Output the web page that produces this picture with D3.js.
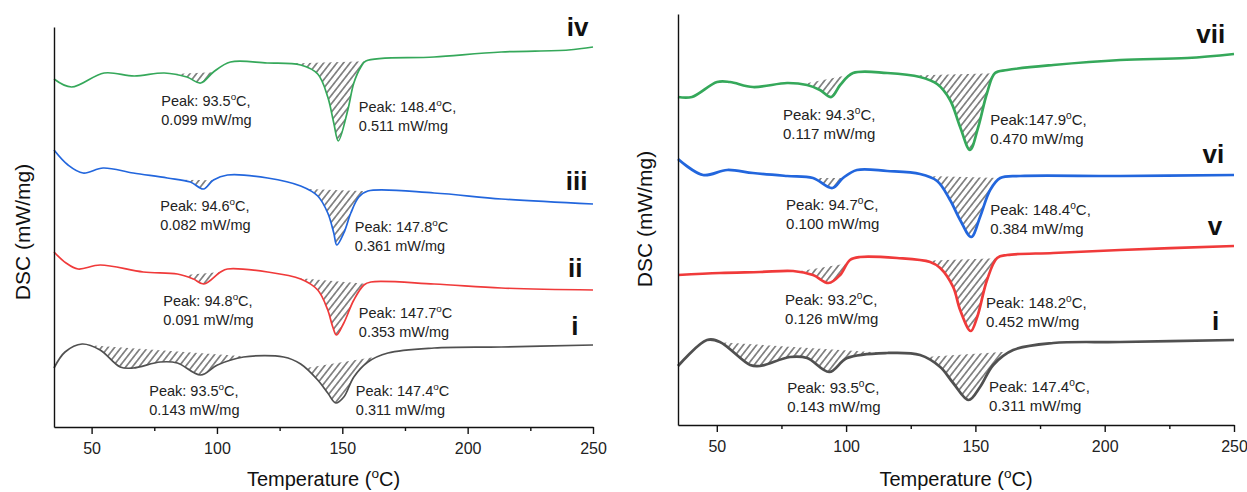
<!DOCTYPE html>
<html>
<head>
<meta charset="utf-8">
<script src="https://cdn.jsdelivr.net/npm/d3@7"></script>
<style>
  body { margin: 0; background: #fff; }
  svg { display: block; }
</style>
</head>
<body>
<script>
// ---- left panel (i - iv), DSC values are stacked offsets (mW/mg)
const lTempIV = [35, 42, 55, 67, 79, 88, 93.5, 98.6, 105.4, 120, 133.4, 140.2, 144.2, 146.6, 148.4, 152.2, 154.6, 157.4, 159.4, 186.6, 213.4, 240.2, 250];
const lDscIV  = [3.48, 3.40, 3.54, 3.51, 3.54, 3.50, 3.44, 3.55, 3.65, 3.64, 3.62, 3.53, 3.30, 3.04, 2.86, 3.17, 3.44, 3.60, 3.66, 3.70, 3.75, 3.77, 3.80];

const lTempIII = [35, 40.6, 46.6, 54.6, 66.6, 80.2, 89.4, 94.6, 98.6, 104.2, 120.2, 133.4, 140.2, 144.2, 146.6, 147.8, 150.6, 153.4, 156.6, 160.2, 186.6, 213.4, 250];
const lDscIII  = [2.77, 2.62, 2.54, 2.59, 2.54, 2.49, 2.45, 2.38, 2.47, 2.52, 2.49, 2.41, 2.31, 2.14, 1.94, 1.82, 1.94, 2.14, 2.30, 2.36, 2.34, 2.28, 2.23];

const lTempII = [35, 39.8, 44.6, 53.4, 70.6, 84.2, 90.6, 94.8, 101.4, 104.2, 120.2, 133.4, 140.2, 144.2, 146.2, 147.7, 150.6, 154.6, 158.6, 161.4, 186.6, 213.4, 250];
const lDscII  = [1.75, 1.64, 1.58, 1.62, 1.55, 1.53, 1.48, 1.43, 1.55, 1.58, 1.55, 1.48, 1.37, 1.17, 1.00, 0.92, 1.04, 1.27, 1.42, 1.45, 1.43, 1.39, 1.37];

const lTempI = [35, 39.4, 46.2, 53.4, 61.4, 66.6, 77.4, 84.2, 93.5, 100.2, 110.6, 126.6, 133.4, 140.2, 144.2, 147.4, 150.6, 154.6, 160.2, 168.2, 186.6, 213.4, 250];
const lDscI  = [0.59, 0.75, 0.83, 0.77, 0.60, 0.59, 0.65, 0.64, 0.52, 0.62, 0.70, 0.70, 0.63, 0.47, 0.34, 0.24, 0.30, 0.50, 0.65, 0.74, 0.79, 0.80, 0.82];

// ---- right panel (i, v - vii)
const rTempVII = [35, 40.4, 50.1, 55.1, 64, 77.2, 84.9, 89.9, 94.3, 97.7, 102.7, 115.9, 128.6, 135.2, 140.2, 144.1, 147.9, 151.1, 154.5, 157.6, 162.3, 180.1, 206, 231.9, 250];
const rDscVII  = [3.28, 3.28, 3.43, 3.43, 3.38, 3.42, 3.40, 3.35, 3.28, 3.40, 3.52, 3.52, 3.48, 3.41, 3.25, 2.98, 2.75, 2.98, 3.32, 3.52, 3.55, 3.60, 3.65, 3.67, 3.71];

const rTempVI = [35, 44.7, 54, 64, 77.2, 87.2, 94.7, 98.8, 104.2, 115.9, 128.6, 135.2, 140.2, 144.1, 148.4, 151.8, 155.7, 159.6, 167.3, 206, 250];
const rDscVI  = [2.66, 2.50, 2.55, 2.52, 2.49, 2.47, 2.37, 2.47, 2.55, 2.54, 2.51, 2.44, 2.25, 2.05, 1.88, 2.08, 2.35, 2.47, 2.49, 2.49, 2.50];

const rTempV = [35, 51.2, 66.7, 79.5, 87.2, 93.2, 97.7, 101.5, 105.4, 119.7, 132.5, 136.4, 141.4, 144.1, 148.2, 150.7, 154.5, 158.4, 162.3, 180.1, 206, 250];
const rDscV  = [1.50, 1.52, 1.53, 1.54, 1.50, 1.42, 1.50, 1.65, 1.68, 1.67, 1.63, 1.57, 1.38, 1.15, 0.94, 1.08, 1.45, 1.67, 1.70, 1.72, 1.75, 1.79];

const rTempI = [35, 46.2, 51.2, 62.9, 66.7, 78.3, 84.9, 93.5, 100.4, 115.9, 128.6, 136.4, 141.4, 147.4, 151.8, 156.9, 164.6, 180.1, 206, 250];
const rDscI  = [0.59, 0.85, 0.83, 0.60, 0.59, 0.68, 0.67, 0.53, 0.67, 0.72, 0.70, 0.58, 0.42, 0.25, 0.38, 0.60, 0.75, 0.82, 0.83, 0.85];

// hatched integration ranges (°C)
const lHatchIV  = [[82.6, 98.6], [129.4, 159.4]];
const lHatchIII = [[85.4, 98.6], [136.2, 160.2]];
const lHatchII  = [[86.2, 101.4], [132.2, 159.4]];
const lHatchI   = [[49.4, 112.2], [135.4, 164.2]];
const rHatchVII = [[83, 101.5], [125.9, 157.6]];
const rHatchVI  = [[87.2, 98.8], [131.3, 159.6]];
const rHatchV   = [[81, 100.4], [130.5, 158.4]];
const rHatchI   = [[51.2, 115.9], [130.5, 163.4]];

// peak annotations: [temperature, dsc] of first line + two lines of text
const lPeaksIV  = [[77.8, 3.21, "Peak: 93.5°C,", "0.099 mW/mg"], [156.6, 3.15, "Peak: 148.4°C,", "0.511 mW/mg"]];
const lPeaksIII = [[77.4, 2.16, "Peak: 94.6°C,", "0.082 mW/mg"], [155, 1.95, "Peak: 147.8°C", "0.361 mW/mg"]];
const lPeaksII  = [[78.6, 1.21, "Peak: 94.8°C,", "0.091 mW/mg"], [156.6, 1.09, "Peak: 147.7°C", "0.353 mW/mg"]];
const lPeaksI   = [[73, 0.31, "Peak: 93.5°C,", "0.143 mW/mg"], [155.4, 0.31, "Peak: 147.4°C", "0.311 mW/mg"]];
const rPeaksVII = [[75.6, 3.05, "Peak: 94.3°C,", "0.117 mW/mg"], [155.7, 3.00, "Peak:147.9°C,", "0.470 mW/mg"]];
const rPeaksVI  = [[76.8, 2.15, "Peak: 94.7°C,", "0.100 mW/mg"], [155.7, 2.10, "Peak: 148.4°C,", "0.384 mW/mg"]];
const rPeaksV   = [[76.4, 1.20, "Peak: 93.2°C,", "0.126 mW/mg"], [154.1, 1.17, "Peak: 148.2°C,", "0.452 mW/mg"]];
const rPeaksI   = [[77.2, 0.32, "Peak: 93.5°C,", "0.143 mW/mg"], [155.3, 0.33, "Peak: 147.4°C,", "0.311 mW/mg"]];

// curve tags: [name, temperature of right edge, dsc of baseline]
const lTags = [["iv", 248.2, 3.91], ["iii", 247.8, 2.37], ["ii", 245.8, 1.50], ["i", 244.2, 0.92]];
const rTags = [["vii", 246.6, 3.82], ["vi", 246.2, 2.62], ["v", 245.4, 1.90], ["i", 244.3, 0.95]];

const majorTicks = [50, 100, 150, 200, 250];
const minorTicks = [75, 125, 175, 225];

const colors = {green: "#35a85a", blue: "#2266dd", red: "#f03a3a", gray: "#505050"};

const width = 1247, height = 492;
const font = "'Liberation Sans', Arial, sans-serif";

const svg = d3.select("body").append("svg")
    .attr("width", width)
    .attr("height", height)
    .attr("font-family", font);

const defs = svg.append("defs");
defs.append("pattern")
    .attr("id", "hatch")
    .attr("patternUnits", "userSpaceOnUse")
    .attr("width", 5.2)
    .attr("height", 5.2)
    .attr("patternTransform", "rotate(38)")
  .append("line")
    .attr("x1", 2.6).attr("y1", 0)
    .attr("x2", 2.6).attr("y2", 5.2)
    .attr("stroke", "#3a3a3a")
    .attr("stroke-width", 1.1);

// text with a superscript "o" in place of the degree sign
function degText(sel, str, fs) {
  const [a, b] = str.split("°");
  const up = fs * 0.38;
  sel.append("tspan").text(a);
  sel.append("tspan").attr("font-size", fs * 0.68).attr("dy", -up).text("o");
  sel.append("tspan").attr("dy", up).text(b);
}

function panel(cfg) {
  const x = d3.scaleLinear().domain([35, 250]).range([cfg.x0, cfg.x1]);
  const y = d3.scaleLinear().domain([0, cfg.yMax]).range([cfg.yBottom, cfg.yTop]);
  const g = svg.append("g");

  const line = d3.line()
      .x(d => x(d[0]))
      .y(d => y(d[1]))
      .curve(d3.curveCatmullRom.alpha(0.5));

  const hatchG = g.append("g");
  const curveG = g.append("g");

  cfg.curves.forEach(c => {
    const pts = c.temp.map((t, i) => [t, c.dsc[i]]);
    const path = curveG.append("path")
        .attr("d", line(pts))
        .attr("fill", "none")
        .attr("stroke", c.color)
        .attr("stroke-width", cfg.lw)
        .attr("stroke-linejoin", "round");

    // sample the drawn curve and hatch between it and a straight baseline
    const node = path.node();
    const len = node.getTotalLength();
    const samples = [];
    for (let l = 0; l <= len; l += 0.5) {
      const p = node.getPointAtLength(l);
      samples.push([p.x, p.y]);
    }
    c.hatch.forEach(([t1, t2]) => {
      const a = x(t1), b = x(t2);
      const seg = samples.filter(p => p[0] >= a && p[0] <= b);
      if (seg.length < 2) return;
      hatchG.append("path")
          .attr("d", "M" + seg.map(p => p.join(",")).join("L") + "Z")
          .attr("fill", "url(#hatch)")
          .attr("stroke", "none");
    });

    c.peaks.forEach(([t, v, l1, l2]) => {
      const txt = g.append("text")
          .attr("x", x(t))
          .attr("y", y(v))
          .attr("font-size", cfg.fs)
          .attr("fill", "#222");
      degText(txt, l1, cfg.fs);
      g.append("text")
          .attr("x", x(t))
          .attr("y", y(v) + cfg.lineGap)
          .attr("font-size", cfg.fs)
          .attr("fill", "#222")
          .text(l2);
    });
  });

  g.selectAll(".tag")
    .data(cfg.tags)
    .join("text")
      .attr("class", "tag")
      .attr("x", d => x(d[1]))
      .attr("y", d => y(d[2]))
      .attr("text-anchor", "end")
      .attr("font-size", 26)
      .attr("font-weight", "bold")
      .attr("fill", "#111")
      .text(d => d[0]);

  // axes
  const xAxis = g.append("g")
      .attr("transform", `translate(0,${cfg.yBottom})`)
      .call(d3.axisBottom(x).tickValues(majorTicks).tickSize(7).tickSizeOuter(0).tickPadding(9));
  xAxis.selectAll("text").attr("font-size", 16).attr("font-family", font).attr("fill", "#222");
  g.append("g")
      .attr("transform", `translate(0,${cfg.yBottom})`)
      .call(d3.axisBottom(x).tickValues(minorTicks).tickSize(4).tickFormat(""))
      .call(a => a.select(".domain").remove());
  g.append("g")
      .attr("transform", `translate(${cfg.x0},0)`)
      .call(d3.axisLeft(y).tickValues([]).tickSizeOuter(0));
  g.selectAll(".domain, .tick line").attr("stroke", "#111").attr("stroke-width", 1.4);

  const xt = g.append("text")
      .attr("x", (cfg.x0 + cfg.x1) / 2)
      .attr("y", 486)
      .attr("text-anchor", "middle")
      .attr("font-size", 20)
      .attr("fill", "#111");
  degText(xt, "Temperature (°C)", 20);

  g.append("text")
      .attr("transform", `translate(${cfg.yLabelX},${cfg.yLabelY}) rotate(-90)`)
      .attr("text-anchor", "middle")
      .attr("font-size", 21)
      .attr("fill", "#111")
      .text("DSC (mW/mg)");
}

panel({
  x0: 54, x1: 593, yTop: 27, yBottom: 427, yMax: 4,
  lw: 1.7, fs: 14.5, lineGap: 18.5, yLabelX: 30, yLabelY: 232,
  curves: [
    {temp: lTempIV, dsc: lDscIV, color: colors.green, hatch: lHatchIV, peaks: lPeaksIV},
    {temp: lTempIII, dsc: lDscIII, color: colors.blue, hatch: lHatchIII, peaks: lPeaksIII},
    {temp: lTempII, dsc: lDscII, color: colors.red, hatch: lHatchII, peaks: lPeaksII},
    {temp: lTempI, dsc: lDscI, color: colors.gray, hatch: lHatchI, peaks: lPeaksI}
  ],
  tags: lTags
});

panel({
  x0: 678, x1: 1234, yTop: 14, yBottom: 425, yMax: 4.11,
  lw: 2.7, fs: 15, lineGap: 19, yLabelX: 652, yLabelY: 219,
  curves: [
    {temp: rTempVII, dsc: rDscVII, color: colors.green, hatch: rHatchVII, peaks: rPeaksVII},
    {temp: rTempVI, dsc: rDscVI, color: colors.blue, hatch: rHatchVI, peaks: rPeaksVI},
    {temp: rTempV, dsc: rDscV, color: colors.red, hatch: rHatchV, peaks: rPeaksV},
    {temp: rTempI, dsc: rDscI, color: colors.gray, hatch: rHatchI, peaks: rPeaksI}
  ],
  tags: rTags
});
</script>
</body>
</html>
